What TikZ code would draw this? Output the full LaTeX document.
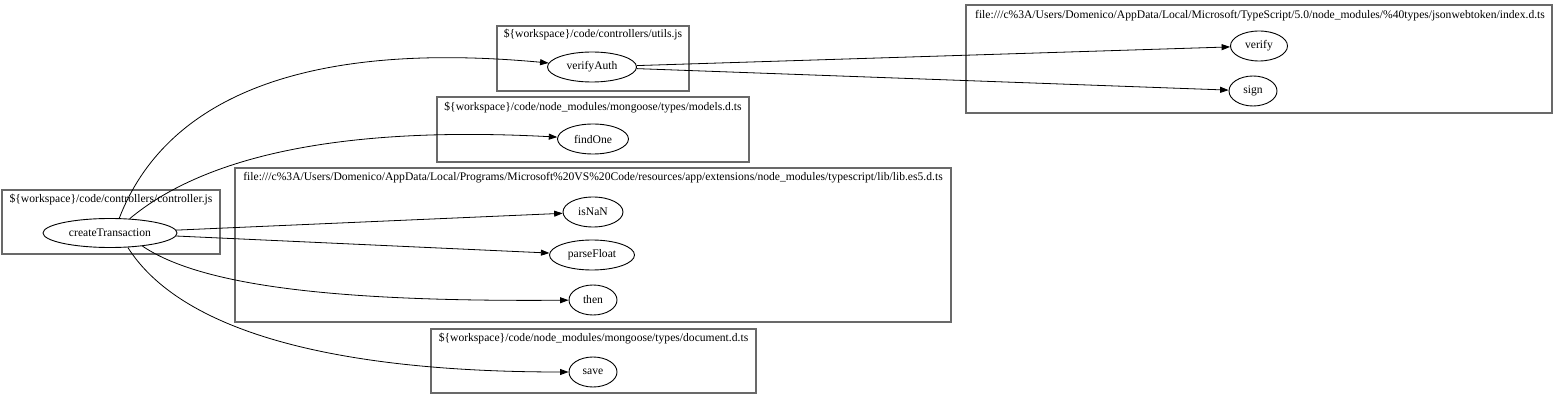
\documentclass[tikz,border=0pt]{standalone}
\usepackage{fontspec}
\setmainfont{Liberation Serif}
\usetikzlibrary{arrows.meta,shapes.geometric}
\definecolor{clgray}{RGB}{105,105,105}
\begin{document}
\begin{tikzpicture}[x=1pt,y=-1pt,
  txt/.style={font=\fontsize{11.6}{13}\selectfont, inner sep=0pt},
  fn/.style={draw=black, line width=0.9pt, ellipse, inner sep=0pt, minimum height=30pt, font=\fontsize{11.6}{13}\selectfont},
  cl/.style={draw=clgray, line width=1.1pt, rectangle, inner sep=0pt},
  edge/.style={draw=black, line width=0.8pt, -{Triangle[length=8.5pt,width=6pt]}}]
\useasboundingbox (0,0) rectangle (1558,403);
% clusters
\node[cl, minimum width=218pt, minimum height=64pt] (c1) at (111,222) {};
\node[txt] (c1l) at (111,200) {\$\{workspace\}/code/controllers/controller.js};
\node[cl, minimum width=192pt, minimum height=65pt] (c2) at (593,58.5) {};
\node[txt] (c2l) at (593,35) {\$\{workspace\}/code/controllers/utils.js};
\node[cl, minimum width=312pt, minimum height=65pt] (c3) at (593,129.5) {};
\node[txt] (c3l) at (593,107.5) {\$\{workspace\}/code/node\_modules/mongoose/types/models.d.ts};
\node[cl, minimum width=716pt, minimum height=154pt] (c4) at (593,245) {};
\node[txt] (c4l) at (593,178) {file:///c\%3A/Users/Domenico/AppData/Local/Programs/Microsoft\%20VS\%20Code/resources/app/extensions/node\_modules/typescript/lib/lib.es5.d.ts};
\node[cl, minimum width=325pt, minimum height=64pt] (c5) at (593.5,361) {};
\node[txt] (c5l) at (593.5,339) {\$\{workspace\}/code/node\_modules/mongoose/types/document.d.ts};
\node[cl, minimum width=586pt, minimum height=108pt] (c6) at (1259,59) {};
\node[txt] (c6l) at (1260,15.5) {file:///c\%3A/Users/Domenico/AppData/Local/Microsoft/TypeScript/5.0/node\_modules/\%40types/jsonwebtoken/index.d.ts};
% nodes
\node[fn, minimum width=134pt, minimum height=29pt] (ct) at (110,233) {createTransaction};
\node[fn, minimum width=89pt] (va) at (592,67) {verifyAuth};
\node[fn, minimum width=71pt] (fo) at (593,139) {findOne};
\node[fn, minimum width=60pt] (nan) at (593,212) {isNaN};
\node[fn, minimum width=85pt] (pf) at (592,255) {parseFloat};
\node[fn, minimum width=48pt] (th) at (593,300) {then};
\node[fn, minimum width=48pt] (sv) at (593,372) {save};
\node[fn, minimum width=57pt] (vf) at (1259,46) {verify};
\node[fn, minimum width=48pt] (sg) at (1253,91) {sign};
% edges
\draw[edge] (ct.58) .. controls (165,100) and (300,40) .. (va);
\draw[edge] (ct.36) .. controls (200,160) and (330,125) .. (fo);
\draw[edge] (ct) -- (nan);
\draw[edge] (ct) -- (pf);
\draw[edge] (ct.-22) .. controls (200,285) and (330,302) .. (th);
\draw[edge] (ct.-39) .. controls (180,330) and (330,372) .. (sv);
\draw[edge] (va) -- (vf);
\draw[edge] (va) -- (sg);
\end{tikzpicture}
\end{document}
